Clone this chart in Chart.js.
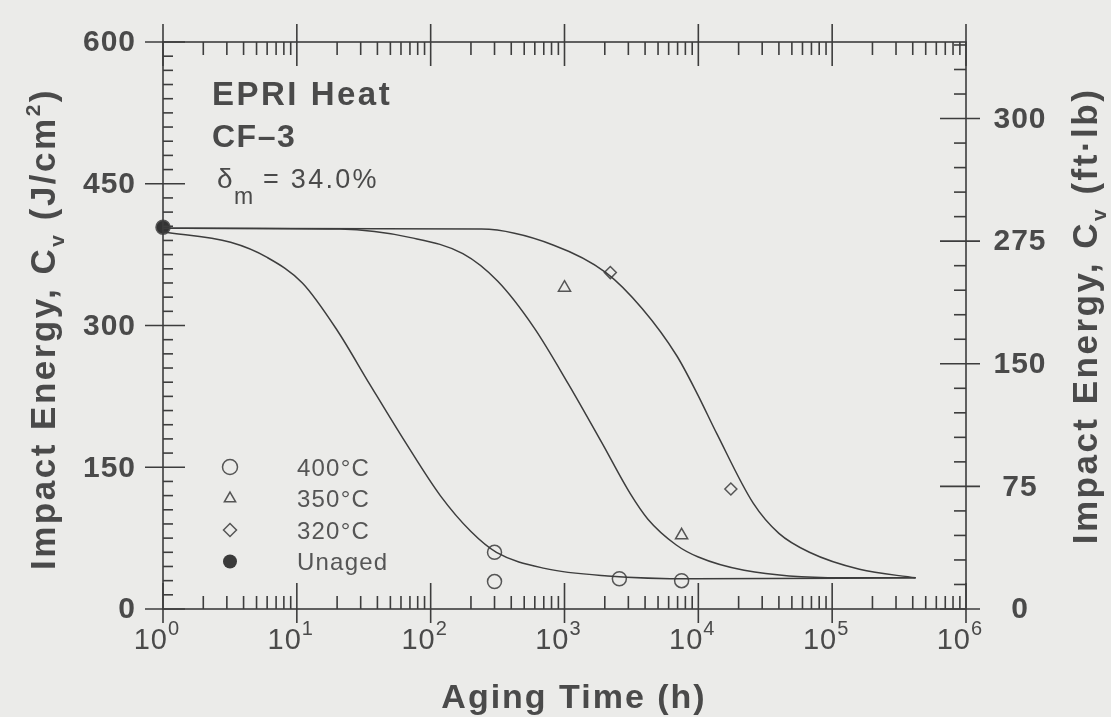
<!DOCTYPE html>
<html lang="en">
  <head>
    <meta charset="utf-8" />
    <title>Impact energy vs aging time</title>
    <style>
      * {
        margin: 0;
        padding: 0;
      }
      body {
        background: #ebebe9;
      }
      .chartBox {
        width: 1111px;
        height: 717px;
      }
    </style>
  </head>
  <body>
    <div class="chartBox">
      <canvas id="myChart"></canvas>
    </div>

    <script src="https://cdn.jsdelivr.net/npm/chart.js"></script>

    <script>
      // axis ticks
      const agingTicks = [1, 10, 100, 1000, 10000, 100000, 1000000];
      const agingTickExps = ["0", "1", "2", "3", "4", "5", "6"];
      const energyTicks = [0, 150, 300, 450, 600];
      const ftlbTicks = [0, 75, 150, 225, 300];
      const ftlbTickLabels = ["0", "75", "150", "275", "300"];
      const JCM2_PER_FTLB = 1.73;

      // measured points
      const unagedTime = [1];
      const unagedEnergy = [404];
      const time400 = [300, 300, 2570, 7500];
      const energy400 = [60, 29, 32, 30];
      const time350 = [1000, 7500];
      const energy350 = [340, 78];
      const time320 = [2200, 17500];
      const energy320 = [356, 127];

      // fitted curves
      const curve400Time = [1, 3.2, 6, 11, 20, 35, 65, 118, 200, 310, 710, 2100, 9300, 420000];
      const curve400Energy = [399, 388, 372, 345, 295, 238, 176, 120, 82, 60, 43, 35, 32, 33];
      const curve350Time = [1, 21, 71, 174, 316, 590, 1070, 1900, 3100, 4200, 6800, 10000, 22000, 117000, 420000];
      const curve350Energy = [403, 402, 393, 376, 347, 298, 238, 176, 122, 95, 68, 55, 41, 33, 33];
      const curve320Time = [1, 240, 830, 2040, 3800, 6900, 9800, 13800, 25700, 40000, 67600, 160000, 420000];
      const curve320Energy = [403, 402, 385, 356, 318, 268, 228, 185, 112, 80, 60, 42, 33];

      const INK = "#3d3d3d";
      const TEXT = "#4a4a4a";
      const FONT = "'Liberation Sans', Arial, sans-serif";

      const pts = (xs, ys) => xs.map((v, i) => ({ x: v, y: ys[i] }));

      const curve = (xs, ys) => ({
        data: pts(xs, ys),
        showLine: true,
        pointRadius: 0,
        borderColor: INK,
        borderWidth: 1.5,
        cubicInterpolationMode: "monotone",
        clip: false,
      });

      const marks = (xs, ys, style, r, fill) => ({
        data: pts(xs, ys),
        showLine: false,
        pointStyle: style,
        pointRadius: r,
        borderColor: "#555",
        borderWidth: 1.5,
        backgroundColor: fill || "rgba(0,0,0,0)",
        clip: false,
      });

      // text in pieces, for sub- and superscripts
      function drawRich(ctx, parts, x, y, align) {
        let w = 0;
        parts.forEach((p) => {
          ctx.font = p.font;
          p.w = ctx.measureText(p.text).width;
          w += p.w;
        });
        let cx = align === "center" ? x - w / 2 : align === "right" ? x - w : x;
        ctx.textAlign = "left";
        ctx.textBaseline = "alphabetic";
        parts.forEach((p) => {
          ctx.font = p.font;
          ctx.fillText(p.text, cx, y + (p.dy || 0));
          cx += p.w;
        });
      }

      const frame = {
        id: "frame",
        afterDraw(chart) {
          const {
            ctx,
            chartArea: { left, right, top, bottom },
            scales: { x, y, y2 },
          } = chart;
          ctx.save();
          ctx.strokeStyle = INK;
          ctx.lineWidth = 1.6;
          ctx.strokeRect(left, top, right - left, bottom - top);
          function seg(x1, y1, x2, y2_) {
            ctx.beginPath();
            ctx.moveTo(x1, y1);
            ctx.lineTo(x2, y2_);
            ctx.stroke();
          }

          // log ticks top and bottom
          agingTicks.forEach((v, i) => {
            const px = x.getPixelForValue(v);
            seg(px, bottom + 14, px, bottom - 26);
            seg(px, top - 18, px, top + 24);
            if (i < agingTicks.length - 1) {
              for (let k = 2; k <= 9; k++) {
                const mx = x.getPixelForValue(v * k);
                seg(mx, bottom, mx, bottom - 13);
                seg(mx, top, mx, top + 13);
              }
            }
          });

          // left axis
          for (let v = 0; v <= 600; v += 15) {
            const py = y.getPixelForValue(v);
            if (v % 150 === 0) seg(left - 18, py, left + 22, py);
            else seg(left, py, left + 10, py);
          }
          // right axis (ft-lb)
          for (let v = 0; v <= 345; v += 15) {
            const py = y2.getPixelForValue(v);
            if (ftlbTicks.includes(v)) seg(right - 26, py, right + 14, py);
            else seg(right - 12, py, right, py);
          }

          ctx.fillStyle = TEXT;
          ctx.letterSpacing = "1px";
          ctx.textAlign = "right";
          ctx.textBaseline = "middle";
          ctx.font = "bold 30px " + FONT;
          energyTicks.forEach((v) => {
            ctx.fillText(String(v), left - 27, y.getPixelForValue(v) + 1);
          });
          ctx.textAlign = "center";
          ftlbTicks.forEach((v, i) => {
            ctx.fillText(ftlbTickLabels[i], right + 54, y2.getPixelForValue(v) + 1);
          });

          // 10^n labels: "10" ends at the tick, exponent just after
          ctx.font = "29px " + FONT;
          const w10 = ctx.measureText("10").width;
          agingTicks.forEach((v, i) => {
            const px = x.getPixelForValue(v);
            drawRich(
              ctx,
              [
                { text: "10", font: "29px " + FONT },
                { text: agingTickExps[i], font: "20px " + FONT, dy: -14 },
              ],
              px + 5 - w10,
              bottom + 40,
              "left"
            );
          });

          // axis titles
          ctx.letterSpacing = "2px";
          drawRich(
            ctx,
            [{ text: "Aging Time (h)", font: "bold 34px " + FONT }],
            574,
            bottom + 99,
            "center"
          );

          const titleFont = "bold 35px " + FONT;
          const subFont = "bold 21px " + FONT;
          ctx.letterSpacing = "2.5px";
          ctx.save();
          ctx.translate(55, 329);
          ctx.rotate(-Math.PI / 2);
          drawRich(
            ctx,
            [
              { text: "Impact Energy, C", font: titleFont },
              { text: "v", font: subFont, dy: 9 },
              { text: " (J/cm", font: titleFont },
              { text: "2", font: subFont, dy: -15 },
              { text: ")", font: titleFont },
            ],
            0,
            0,
            "center"
          );
          ctx.restore();

          ctx.save();
          ctx.translate(1097, 316);
          ctx.rotate(-Math.PI / 2);
          drawRich(
            ctx,
            [
              { text: "Impact Energy, C", font: titleFont },
              { text: "v", font: subFont, dy: 9 },
              { text: " (ft\u00b7lb)", font: titleFont },
            ],
            0,
            0,
            "center"
          );
          ctx.restore();

          // material notes
          ctx.letterSpacing = "2.5px";
          drawRich(ctx, [{ text: "EPRI Heat", font: "bold 33px " + FONT }], 212, 105, "left");
          ctx.letterSpacing = "1.5px";
          drawRich(ctx, [{ text: "CF\u20133", font: "bold 32px " + FONT }], 212, 147, "left");
          ctx.letterSpacing = "0px";
          drawRich(ctx, [{ text: "\u03b4", font: "28px " + FONT }], 217, 188, "left");
          drawRich(ctx, [{ text: "m", font: "23px " + FONT }], 234, 204, "left");
          ctx.letterSpacing = "2.3px";
          drawRich(ctx, [{ text: "= 34.0%", font: "27px " + FONT }], 263, 188, "left");

          // legend
          const legend = [
            ["400\u00b0C", "circle"],
            ["350\u00b0C", "triangle"],
            ["320\u00b0C", "rectRot"],
            ["Unaged", "dot"],
          ];
          ctx.letterSpacing = "1.2px";
          legend.forEach(([label, style], i) => {
            const ly = 467 + i * 31.5;
            ctx.strokeStyle = "#555";
            ctx.lineWidth = 1.5;
            if (style === "dot") {
              ctx.fillStyle = "#3a3a3a";
              ctx.beginPath();
              ctx.arc(230, ly, 7, 0, Math.PI * 2);
              ctx.fill();
            } else {
              ctx.fillStyle = "rgba(0,0,0,0)";
              Chart.helpers.drawPoint(
                ctx,
                { pointStyle: style, radius: style === "circle" ? 7.5 : 6.5, rotation: 0, borderWidth: 1.5 },
                230,
                ly
              );
            }
            ctx.fillStyle = "#555";
            drawRich(ctx, [{ text: label, font: "24px " + FONT }], 297, ly + 8.5, "left");
          });
          ctx.restore();
        },
      };

      const config = {
        type: "scatter",
        data: {
          datasets: [
            curve(curve400Time, curve400Energy),
            curve(curve350Time, curve350Energy),
            curve(curve320Time, curve320Energy),
            marks(time400, energy400, "circle", 7),
            marks(time350, energy350, "triangle", 7),
            marks(time320, energy320, "rectRot", 6),
            marks(unagedTime, unagedEnergy, "circle", 7, "#333"),
          ],
        },
        options: {
          responsive: true,
          maintainAspectRatio: false,
          animation: false,
          events: [],
          layout: {
            padding: { left: 163, right: 145, top: 42, bottom: 108 },
          },
          plugins: {
            legend: { display: false },
            tooltip: { enabled: false },
          },
          scales: {
            x: { type: "logarithmic", min: 1, max: 1000000, display: false },
            y: { min: 0, max: 600, display: false },
            y2: { min: 0, max: 600 / JCM2_PER_FTLB, display: false, position: "right" },
          },
        },
        plugins: [frame],
      };

      const myChart = new Chart(document.getElementById("myChart"), config);
    </script>
  </body>
</html>
